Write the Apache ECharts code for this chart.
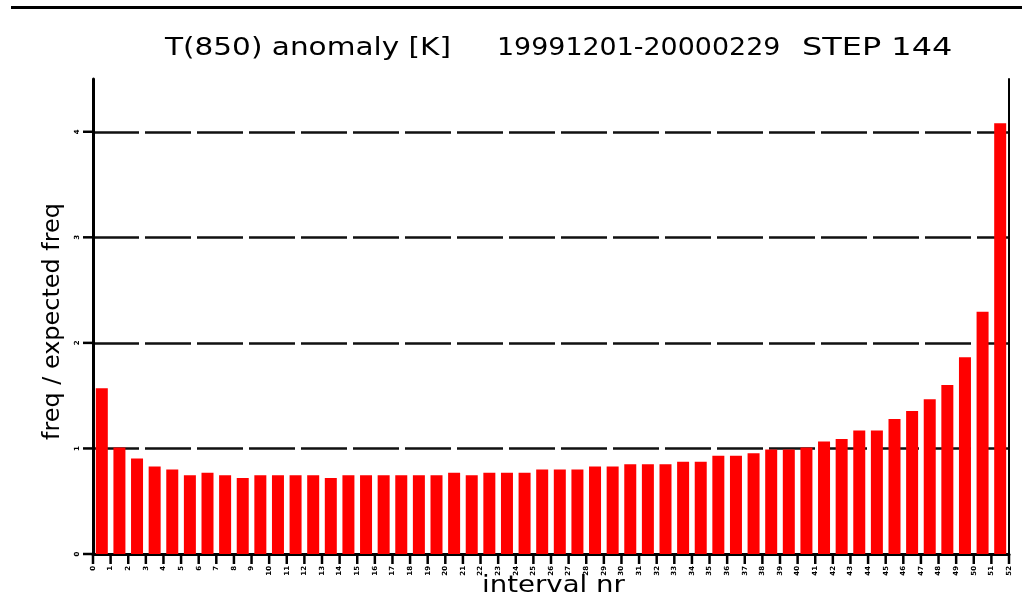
<!DOCTYPE html>
<html>
<head>
<meta charset="utf-8">
<script src="https://cdn.jsdelivr.net/npm/echarts@6/dist/echarts.min.js"></script>
<style>
  html, body { margin: 0; padding: 0; background: #fff; }
  #chart { width: 1022px; height: 601px; }
</style>
</head>
<body>
<div id="chart"></div>
<script>
// Interval numbers (0..51) and the ratio freq / expected freq for each interval
const intervals = Array.from({ length: 52 }, (_, i) => i);
const ratio = [
  1.57, 1.01, 0.905, 0.83, 0.80, 0.745, 0.77, 0.745, 0.72, 0.745,
  0.745, 0.745, 0.745, 0.72, 0.745, 0.745, 0.745, 0.745, 0.745, 0.745,
  0.77, 0.745, 0.77, 0.77, 0.77, 0.80, 0.80, 0.80, 0.83, 0.83,
  0.85, 0.85, 0.85, 0.875, 0.875, 0.93, 0.93, 0.955, 0.99, 0.99,
  1.01, 1.065, 1.09, 1.17, 1.17, 1.28, 1.355, 1.465, 1.60, 1.865,
  2.295, 4.08
];
const yTicks = [0, 1, 2, 3, 4];
const titleParts = ['T(850) anomaly [K]', '19991201-20000229', 'STEP 144'];
const yName = 'freq / expected freq';
const xName = 'interval nr';

const FONT = 'DejaVu Sans';
const X_MAX = intervals.length;   // last interval boundary
const Y_MAX = 4.5;
const TICK_LEN = 10;
const TICK_W = 2.5;
const chart = echarts.init(document.getElementById('chart'), null, { renderer: 'canvas' });

// bars sit in the middle of each unit interval
const barData = intervals.map((k, i) => [k + 0.5, ratio[i]]);
// interval boundaries 0..52 carry the x tick marks
const xBoundaries = intervals.concat([X_MAX]);

const tinyLabel = { fontSize: 7, color: '#000', rotate: 90, fontFamily: FONT, fontWeight: 'bold' };
const hidden = { show: false };

// short outward tick marks, placed through the axis scales
function tickRenderer(dir) {
  return function (params, api) {
    const v = api.value(0);
    const p = dir === 'x' ? api.coord([v, 0]) : api.coord([0, v]);
    const shape = dir === 'x'
      ? { x: p[0] - TICK_W / 2, y: p[1], width: TICK_W, height: TICK_LEN }
      : { x: p[0] - TICK_LEN, y: p[1] - TICK_W / 2, width: TICK_LEN, height: TICK_W };
    return { type: 'rect', shape: shape, style: { fill: '#000' } };
  };
}

chart.setOption({
  animation: false,
  backgroundColor: '#fff',
  grid: { left: 93, right: 13, top: 79, bottom: 47 },
  xAxis: [
    {
      type: 'value', min: 0, max: X_MAX, interval: 1, position: 'bottom',
      axisLine: { show: true, onZero: false, lineStyle: { color: '#000', width: 3 } },
      axisTick: hidden,
      axisLabel: Object.assign({ margin: 12, showMaxLabel: true, showMinLabel: true, hideOverlap: false }, tinyLabel),
      splitLine: hidden
    },
    {
      type: 'value', min: 0, max: X_MAX, position: 'top',
      axisLine: { show: true, lineStyle: { color: '#000', width: 2 } },
      axisTick: hidden, axisLabel: hidden, splitLine: hidden
    }
  ],
  yAxis: [
    {
      type: 'value', min: 0, max: Y_MAX, interval: 1, position: 'left',
      axisLine: { show: true, onZero: false, lineStyle: { color: '#000', width: 3 } },
      axisTick: hidden,
      axisLabel: Object.assign({ margin: 12, showMaxLabel: false }, tinyLabel),
      splitLine: {
        show: true, showMinLine: false, showMaxLine: false,
        lineStyle: { color: '#111', width: 2.5, type: [46, 6] }
      }
    },
    {
      type: 'value', min: 0, max: Y_MAX, interval: 1, position: 'right',
      axisLine: { show: true, onZero: false, lineStyle: { color: '#000', width: 2 } },
      axisTick: hidden, axisLabel: hidden, splitLine: hidden
    }
  ],
  series: [
    {
      type: 'bar',
      xAxisIndex: 0, yAxisIndex: 0,
      data: barData,
      barWidth: 12,
      itemStyle: { color: '#ff0000' },
      z: 3
    },
    {
      type: 'custom', xAxisIndex: 0, yAxisIndex: 0, clip: false, silent: true,
      data: xBoundaries.map(v => [v]),
      encode: { x: 0 },
      renderItem: tickRenderer('x'), z: 4
    },
    {
      type: 'custom', xAxisIndex: 0, yAxisIndex: 0, clip: false, silent: true,
      data: yTicks.map(v => [v]),
      encode: { y: 0 },
      renderItem: tickRenderer('y'), z: 4
    }
  ],
  graphic: [
    // rule across the top of the page
    { type: 'rect', left: 11, top: 6, shape: { width: 1011, height: 3 }, style: { fill: '#000' } },
    { type: 'text', x: 165, y: 37, scaleX: 1.23, style: { text: titleParts[0], font: '24px ' + FONT, fill: '#000' } },
    { type: 'text', x: 497, y: 37, scaleX: 1.12, style: { text: titleParts[1], font: '24px ' + FONT, fill: '#000' } },
    { type: 'text', x: 802, y: 37, scaleX: 1.33, style: { text: titleParts[2], font: '24px ' + FONT, fill: '#000' } },
    {
      type: 'text', x: 42, y: 440, rotation: Math.PI / 2, scaleX: 1.04,
      style: { text: yName, font: '23px ' + FONT, fill: '#000' }
    },
    { type: 'text', x: 482, y: 575, scaleX: 1.2, style: { text: xName, font: '23px ' + FONT, fill: '#000' } }
  ]
});
</script>
</body>
</html>
